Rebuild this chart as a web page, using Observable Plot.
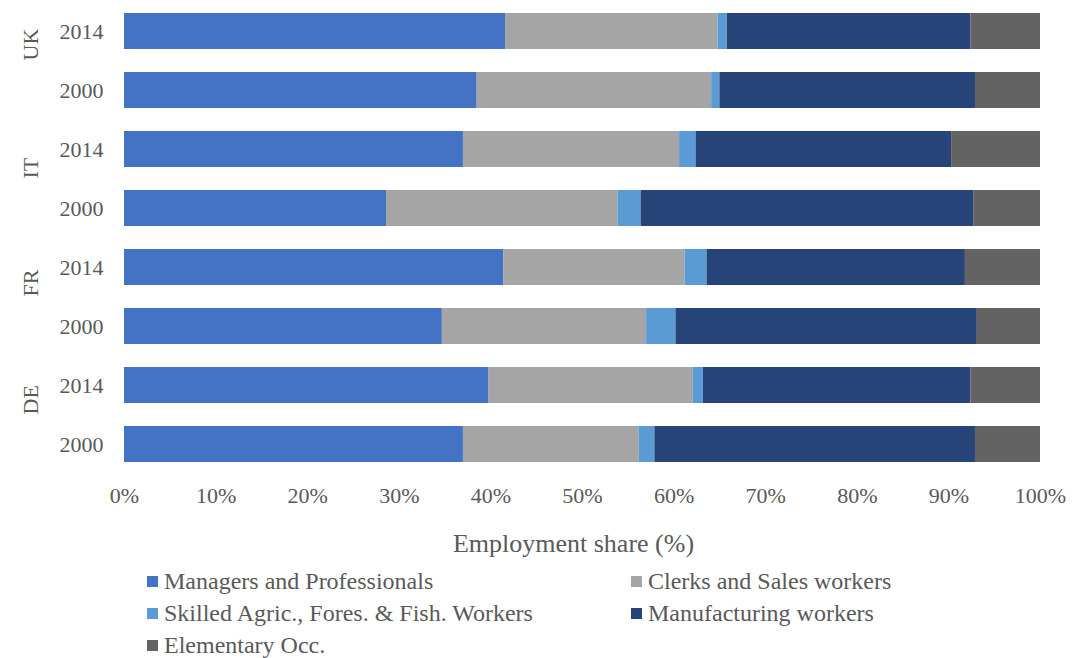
<!DOCTYPE html>
<html><head><meta charset="utf-8">
<script src="https://cdn.jsdelivr.net/npm/d3@7"></script>
<script src="https://cdn.jsdelivr.net/npm/@observablehq/plot@0.6"></script>
<style>
body{margin:0;background:#fff;font-family:"Liberation Serif","Times New Roman",serif;color:#595959}
#chart svg{display:block}
#legend{display:grid;grid-template-columns:484px 420px;padding-left:147px;margin-top:0;font-size:24px;line-height:32px}
#legend .item{display:flex;align-items:center;white-space:nowrap}
#legend .sw{width:11px;height:11px;margin-right:6px;flex:none}
</style></head><body><div id="chart"></div><div id="legend"></div><script>
const countries = ["UK","IT","FR","DE"];
const years = ["2014","2000"];
const rowCountry = ["UK","UK","IT","IT","FR","FR","DE","DE"];
const rowYear = ["2014","2000","2014","2000","2014","2000","2014","2000"];
const categories = ["Managers and Professionals","Clerks and Sales workers","Skilled Agric., Fores. & Fish. Workers","Manufacturing workers","Elementary Occ."];
const colors = ["#4472C4","#A5A5A5","#5B9BD5","#264478","#636363"];
const managers      = [41.6,38.5,37.0,28.6,41.4,34.7,39.8,37.0];
const clerks        = [23.2,25.6,23.6,25.3,19.8,22.3,22.3,19.2];
const skilled       = [1.0,0.9,1.8,2.5,2.4,3.2,1.1,1.7];
const manufacturing = [26.6,27.9,27.9,36.3,28.2,32.9,29.2,35.0];
const elementary    = [7.6,7.1,9.7,7.3,8.2,6.9,7.6,7.1];
const xTicks = [0,10,20,30,40,50,60,70,80,90,100];
const xLabel = "Employment share (%)";

const series = [managers, clerks, skilled, manufacturing, elementary];
const data = [];
rowCountry.forEach((c, i) => categories.forEach((cat, j) =>
  data.push({country: c, year: rowYear[i], category: cat, value: series[j][i]})));

const chart = Plot.plot({
  width: 1072, height: 565,
  marginLeft: 124, marginRight: 32, marginTop: 1, marginBottom: 91.5,
  style: {fontFamily: '"Liberation Serif","Times New Roman",serif', fontSize: "22px", color: "#595959", background: "#fff"},
  x: {domain: [0, 100]},
  y: {domain: years, paddingInner: 0.39, paddingOuter: 0.195},
  fy: {domain: countries, padding: 0, axis: null},
  color: {domain: categories, range: colors},
  marks: [
    Plot.barX(data, Plot.stackX({x: "value", y: "year", fy: "country", fill: "category"})),
    Plot.axisY({tickSize: 0, tickPadding: 21, label: null}),
    Plot.text(countries, {fy: d => d, text: d => d, frameAnchor: "left", dx: -94, rotate: -90, fontSize: 22}),
    Plot.axisX({ticks: xTicks, tickFormat: d => d + "%", tickSize: 0, tickPadding: 14, label: null}),
    Plot.text([xLabel], {text: d => d, facet: "super", frameAnchor: "bottom", lineAnchor: "middle", dy: 70, dx: -9, fontSize: 26})
  ]
});
document.getElementById("chart").appendChild(chart);

const legend = document.getElementById("legend");
categories.forEach((cat, j) => {
  const item = document.createElement("div");
  item.className = "item";
  const sw = document.createElement("span");
  sw.className = "sw";
  sw.style.background = colors[j];
  item.appendChild(sw);
  item.appendChild(document.createTextNode(cat));
  legend.appendChild(item);
});
</script></body></html>
